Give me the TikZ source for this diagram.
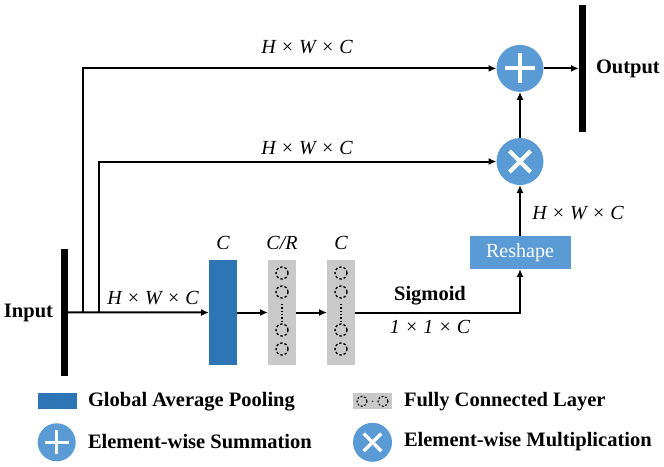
\documentclass[tikz,border=0pt]{standalone}
\usepackage{fontspec}
\setmainfont{Liberation Serif}
\usetikzlibrary{arrows.meta}
\definecolor{gapblue}{HTML}{2E75B6}
\definecolor{opblue}{HTML}{5B9BD5}
\definecolor{fcgray}{HTML}{C9C9C9}
\begin{document}
\begin{tikzpicture}[x=1pt,y=-1pt,
  every node/.style={inner sep=0pt, outer sep=0pt},
  txt/.style={font=\fontsize{20}{24}\selectfont},
  btxt/.style={font=\fontsize{20.5}{24}\selectfont\bfseries},
  itxt/.style={font=\fontsize{20}{24}\selectfont\itshape},
  conn/.style={line width=2pt, -{Latex[length=8pt,width=7pt]}},
  bar/.style={rectangle, fill=black, minimum width=7pt},
  gapbox/.style={rectangle, fill=gapblue, minimum width=28pt, minimum height=105pt},
  fcbox/.style={rectangle, fill=fcgray, minimum width=28pt, minimum height=105pt},
  neuron/.style={dash pattern=on 2.4pt off 2pt, line width=1.3pt},
  plusop/.style={circle, fill=opblue, minimum size=2*#1,
    path picture={\draw[white, line width=0.17*#1]
      (path picture bounding box.center) +(-0.64*#1,0) -- +(0.64*#1,0)
      (path picture bounding box.center) +(0,-0.64*#1) -- +(0,0.64*#1);}},
  timesop/.style={circle, fill=opblue, minimum size=2*#1,
    path picture={\draw[white, line width=0.17*#1]
      (path picture bounding box.center) +(-0.45*#1,-0.45*#1) -- +(0.45*#1,0.45*#1)
      (path picture bounding box.center) +(-0.45*#1,0.45*#1) -- +(0.45*#1,-0.45*#1);}},
]
\useasboundingbox (0,0) rectangle (664,466);

% bars
\node[bar, minimum height=127pt] (inbar) at (64.5,312.3) {};
\node[bar, minimum height=126.7pt] (outbar) at (582.5,68.4) {};
\node[btxt, anchor=east] (inlab) at (53,313) {Input};
\node[btxt, anchor=west] (outlab) at (596,69) {Output};

% blocks
\node[gapbox] (gap) at (223,312.5) {};
\node[fcbox] (fc1) at (282,312.5) {};
\node[fcbox] (fc2) at (341,312.5) {};
\foreach \xx in {282,341}{
  \foreach \yy in {273,292,330,349}{
    \draw[neuron] (\xx,\yy) circle (6pt);
  }
  \draw[dotted, line width=1.3pt] (\xx,304) -- (\xx,322);
}
\node[rectangle, fill=opblue, minimum width=101pt, minimum height=33pt, txt, text=white] (reshape) at (520,252.5) {Reshape};
\node[timesop=23.5pt] (times) at (520,161.5) {};
\node[plusop=23.5pt] (plus) at (520,68.4) {};

% connectors
\coordinate (b1) at (82.5,312.3);
\coordinate (b2) at (99.3,312.3);
\draw[conn] (inbar.east) -- (gap.west);
\draw[conn] (b1) |- (plus.west);
\draw[conn] (b2) |- (times.west);
\draw[conn] (gap.east) -- (fc1.west);
\draw[conn] (fc1.east) -- (fc2.west);
\draw[conn] (fc2.east) -| (reshape.south);
\draw[conn] (reshape.north) -- (times.south);
\draw[conn] (times.north) -- (plus.south);
\draw[conn] (plus.east) -- (outbar.west);

% labels
\node[itxt] (l1) at (307,47) {H × W × C};
\node[itxt] (l2) at (307,148) {H × W × C};
\node[itxt] (l3) at (153,298) {H × W × C};
\node[itxt] (l4) at (578,213) {H × W × C};
\node[itxt] (c1) at (223,243) {C};
\node[itxt] (c2) at (282,243) {C/R};
\node[itxt] (c3) at (341,243) {C};
\node[btxt] (sig) at (430,296) {Sigmoid};
\node[itxt] (l5) at (430,327) {1 × 1 × C};

% legend
\fill[gapblue] (38.3,393.3) rectangle (76.7,409.3);
\node[btxt, anchor=west] (lg1) at (88,401.7) {Global Average Pooling};
\fill[fcgray] (353.3,393.3) rectangle (391.7,409.3);
\draw[neuron, line width=1.1pt, dash pattern=on 2pt off 1.6pt] (362,401.3) circle (5pt);
\draw[neuron, line width=1.1pt, dash pattern=on 2pt off 1.6pt] (383,401.3) circle (5pt);
\fill (372.5,401.3) circle (0.8pt);
\node[btxt, anchor=west] (lg2) at (404,401.7) {Fully Connected Layer};
\node[plusop=19pt] (lgplus) at (56.7,442.3) {};
\node[btxt, anchor=west] (lg3) at (88,442) {Element-wise Summation};
\node[timesop=19.5pt] (lgtimes) at (372.5,442.3) {};
\node[btxt, anchor=west] (lg4) at (404,442) {Element-wise Multiplication};
\end{tikzpicture}
\end{document}
